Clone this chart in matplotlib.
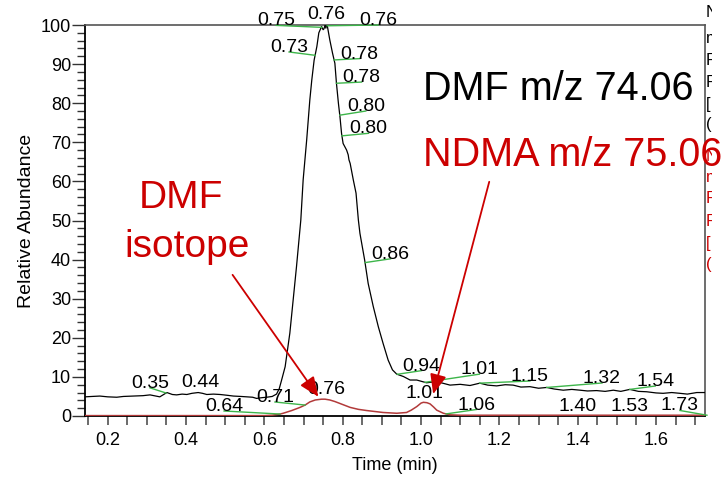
import numpy as np
import matplotlib
matplotlib.use("Agg")
import matplotlib.pyplot as plt
from matplotlib.transforms import Bbox, TransformedBbox

plt.rcParams['font.family'] = ['Liberation Sans', 'DejaVu Sans']

# DMF m/z 74.06 extracted ion chromatogram (relative abundance, %)
dmf_time = [0.142, 0.16, 0.18, 0.20, 0.223, 0.24, 0.265, 0.29, 0.308, 0.333,
            0.351, 0.365, 0.376, 0.39, 0.402, 0.415, 0.431, 0.442, 0.453, 0.47,
            0.487, 0.505, 0.521, 0.54, 0.555, 0.57, 0.58, 0.595, 0.606, 0.62,
            0.631, 0.638, 0.644, 0.653, 0.665, 0.682, 0.693, 0.699, 0.708, 0.716,
            0.721, 0.727, 0.730, 0.734, 0.739, 0.746, 0.750, 0.752, 0.755, 0.757,
            0.759, 0.761, 0.767, 0.774, 0.780, 0.784, 0.789, 0.793, 0.797, 0.801,
            0.810, 0.814, 0.816, 0.819, 0.827, 0.834, 0.840, 0.844, 0.856, 0.865,
            0.878, 0.891, 0.903, 0.916, 0.927, 0.938, 0.955, 0.972, 0.989, 1.014,
            1.040, 1.074, 1.10, 1.125, 1.150, 1.17, 1.193, 1.215, 1.235, 1.255,
            1.278, 1.30, 1.321, 1.34, 1.363, 1.385, 1.406, 1.425, 1.448, 1.47,
            1.491, 1.51, 1.533, 1.555, 1.576, 1.60, 1.618, 1.64, 1.661, 1.68,
            1.704, 1.725]
dmf_abund = [4.9, 5.0, 5.1, 4.9, 4.8, 5.0, 5.1, 5.2, 5.4, 4.9,
             6.0, 5.5, 5.4, 5.6, 5.5, 5.8, 6.0, 5.8, 5.5, 5.6,
             5.5, 5.3, 5.1, 5.0, 4.9, 4.8, 4.5, 4.7, 4.8, 5.0,
             5.6, 7.0, 9.2, 12.6, 21.2, 38.2, 50.1, 60.4, 70.6, 80.8,
             85.9, 91.0, 92.5, 94.5, 98.0, 99.6, 98.8, 99.0, 100.0, 99.2,
             100.0, 99.6, 96.2, 92.8, 90.2, 85.1, 80.0, 76.5, 72.3, 69.7,
             68.0, 66.8, 65.5, 64.6, 60.4, 57.0, 50.1, 46.7, 39.9, 33.9,
             28.0, 22.8, 18.6, 14.3, 11.8, 10.7, 10.1, 9.2, 9.2, 8.5,
             8.8, 7.9, 8.1, 7.8, 8.4, 7.9, 7.7, 8.0, 7.9, 7.4,
             7.5, 7.1, 7.3, 6.9, 6.6, 6.8, 6.6, 6.4, 6.5, 6.3,
             6.6, 6.3, 6.8, 6.3, 6.2, 5.9, 5.8, 6.0, 5.8, 5.6,
             6.0, 6.0]

# NDMA m/z 75.06 extracted ion chromatogram
ndma_time = [0.142, 0.60, 0.62, 0.640, 0.648, 0.67, 0.691, 0.704, 0.716, 0.73,
             0.746, 0.755, 0.767, 0.78, 0.793, 0.819, 0.84, 0.861, 0.903, 0.938,
             0.963, 0.975, 0.989, 1.000, 1.006, 1.015, 1.023, 1.032, 1.040, 1.057,
             1.074, 1.10, 1.725]
ndma_abund = [0.1, 0.1, 0.2, 0.5, 0.7, 1.4, 2.2, 2.8, 3.6, 4.1,
              4.3, 4.3, 4.1, 3.7, 3.2, 2.2, 1.7, 1.4, 0.9, 0.7,
              0.9, 1.5, 2.4, 3.3, 3.5, 3.4, 3.1, 2.3, 1.5, 0.7,
              0.3, 0.2, 0.2]

# retention-time labels written on the traces
rt_text = ["0.35", "0.44", "0.73", "0.75", "0.76", "0.76", "0.78", "0.78",
           "0.80", "0.80", "0.86", "0.94", "1.01", "1.15", "1.32", "1.54",
           "0.64", "0.71", "0.76", "1.01", "1.06", "1.40", "1.53", "1.73"]
rt_value = [0.349, 0.44, 0.7295, 0.747, 0.757, 0.760, 0.778, 0.784,
            0.7925, 0.798, 0.857, 0.939, 1.010, 1.150, 1.321, 1.533,
            0.640, 0.704, 0.750, 1.006, 1.064, 1.40, 1.53, 1.73]
rt_trace = ["dmf"] * 16 + ["ndma"] * 8

# layout: baseline-centre of each label (data units) and whether a leader is drawn
label_xy = [(0.308, 7.2), (0.437, 7.4), (0.663, 93.1), (0.630, 99.9),
            (0.759, 101.5), (0.891, 100.0), (0.843, 91.4), (0.848, 85.4),
            (0.859, 78.0), (0.866, 72.3), (0.922, 40.2), (1.001, 11.6),
            (1.149, 10.7), (1.278, 8.95), (1.462, 8.44), (1.598, 7.67),
            (0.497, 1.28), (0.627, 3.58), (0.759, 5.63), (1.009, 4.6),
            (1.141, 1.66), (1.399, 1.28), (1.532, 1.28), (1.661, 1.41)]
leader = [True, False, True, True, False, True, True, True,
          True, True, True, True, True, True, True, True,
          True, True, False, False, True, False, False, True]

x_ticks = [0.2, 0.4, 0.6, 0.8, 1.0, 1.2, 1.4, 1.6]
y_ticks = [0, 10, 20, 30, 40, 50, 60, 70, 80, 90, 100]

GREEN = "#3db54a"
RED = "#cc0000"
TRACE_RED = "#b23a3a"

fig = plt.figure(figsize=(7.28, 4.78), dpi=100)
ax = fig.add_axes([85 / 728, 1 - 416 / 478, 620 / 728, 391 / 478])

traces = {"dmf": (np.array(dmf_time), np.array(dmf_abund)),
          "ndma": (np.array(ndma_time), np.array(ndma_abund))}

ax.plot(traces["ndma"][0], traces["ndma"][1], color=TRACE_RED, lw=1.1, zorder=3)
ax.plot(traces["dmf"][0], traces["dmf"][1], color="black", lw=0.9, zorder=4)

for txt, rt, tr, (tx, ty), lead in zip(rt_text, rt_value, rt_trace, label_xy, leader):
    t, a = traces[tr]
    ay = np.interp(rt, t, a)
    if lead:
        ax.plot([rt, tx], [ay, ty], color=GREEN, lw=1.0, clip_on=False, zorder=5)
    ax.text(tx, ty, txt, ha="center", va="baseline", fontsize=14,
            color="black", zorder=6)

ax.set_xlim(0.142, 1.725)
ax.set_ylim(0, 100)
ax.set_xticks(x_ticks)
ax.set_xticklabels([f"{v:.1f}" for v in x_ticks])
ax.set_xticks(np.arange(0.15, 1.721, 0.05), minor=True)
ax.set_yticks(y_ticks)
ax.set_yticks(np.arange(0, 101, 2), minor=True)
ax.tick_params(axis="x", which="both", direction="out", length=6.5, width=1.4,
               color="#6a6a6a", labelsize=13, pad=5)
ax.tick_params(axis="y", which="major", direction="out", length=9.5, width=1.0,
               color="#333333", labelsize=13, pad=0.5)
ax.tick_params(axis="y", which="minor", direction="out", length=5.8, width=1.0,
               color="#333333")

for side in ("left", "bottom"):
    ax.spines[side].set_color("black")
    ax.spines[side].set_linewidth(1.3)
for side in ("top", "right"):
    ax.spines[side].set_color("#555555")
    ax.spines[side].set_linewidth(1.2)

ax.set_xlabel("Time (min)", fontsize=13, labelpad=6)
ax.set_ylabel("Relative Abundance", fontsize=14, labelpad=4)

# trace names and the isotope callout
ax.text(0.545, 0.808, "DMF m/z 74.06", transform=ax.transAxes, fontsize=28.5,
        color="black", ha="left", va="baseline", zorder=7)
ax.text(0.545, 0.640, "NDMA m/z 75.06", transform=ax.transAxes, fontsize=28.5,
        color=RED, ha="left", va="baseline", zorder=7)
ax.text(0.154, 0.531, "DMF", transform=ax.transAxes, fontsize=28,
        color=RED, ha="center", va="baseline", zorder=7)
ax.text(0.165, 0.407, "isotope", transform=ax.transAxes, fontsize=28,
        color=RED, ha="center", va="baseline", zorder=7)

arrow = dict(arrowstyle="-|>,head_length=1.2,head_width=0.5", color=RED,
             lw=1.3, shrinkA=0, shrinkB=0, mutation_scale=10)
ax.annotate("", xy=(0.738, 4.9), xycoords="data",
            xytext=(0.238, 0.361), textcoords="axes fraction",
            arrowprops=arrow, zorder=8)
ax.annotate("", xy=(1.031, 5.6), xycoords="data",
            xytext=(0.652, 0.599), textcoords="axes fraction",
            arrowprops=arrow, zorder=8)

# trace headers cut off at the right edge of the original screenshot
clip = TransformedBbox(Bbox([[706 / 728, 0], [712 / 728, 1]]), fig.transFigure)
head_dmf = ["NL: 1.06E8", "m/z= 74.0597-74.0605", "F: FTMS + p ESI Full ms",
            "F: FTMS [50.00-500.00]", "[ MS ]", "(DMF)"]
head_ndma = ["NL: 4.52E6", "m/z= 75.0549-75.0557", "F: FTMS + p ESI Full ms",
             "F: FTMS [50.00-500.00]", "[ MS ]", "(NDMA)"]
base_dmf = [17, 43, 65, 87, 109, 129]
base_ndma = [161, 182, 203, 226, 248, 269]
for lines, bases, col in ((head_dmf, base_dmf, "black"), (head_ndma, base_ndma, RED)):
    for s, b in zip(lines, bases):
        t = fig.text(706 / 728, 1 - b / 478, s, fontsize=12, color=col,
                     ha="left", va="baseline")
        t.set_clip_box(clip)
        t.set_clip_on(True)

fig.savefig("out.png", dpi=100)
